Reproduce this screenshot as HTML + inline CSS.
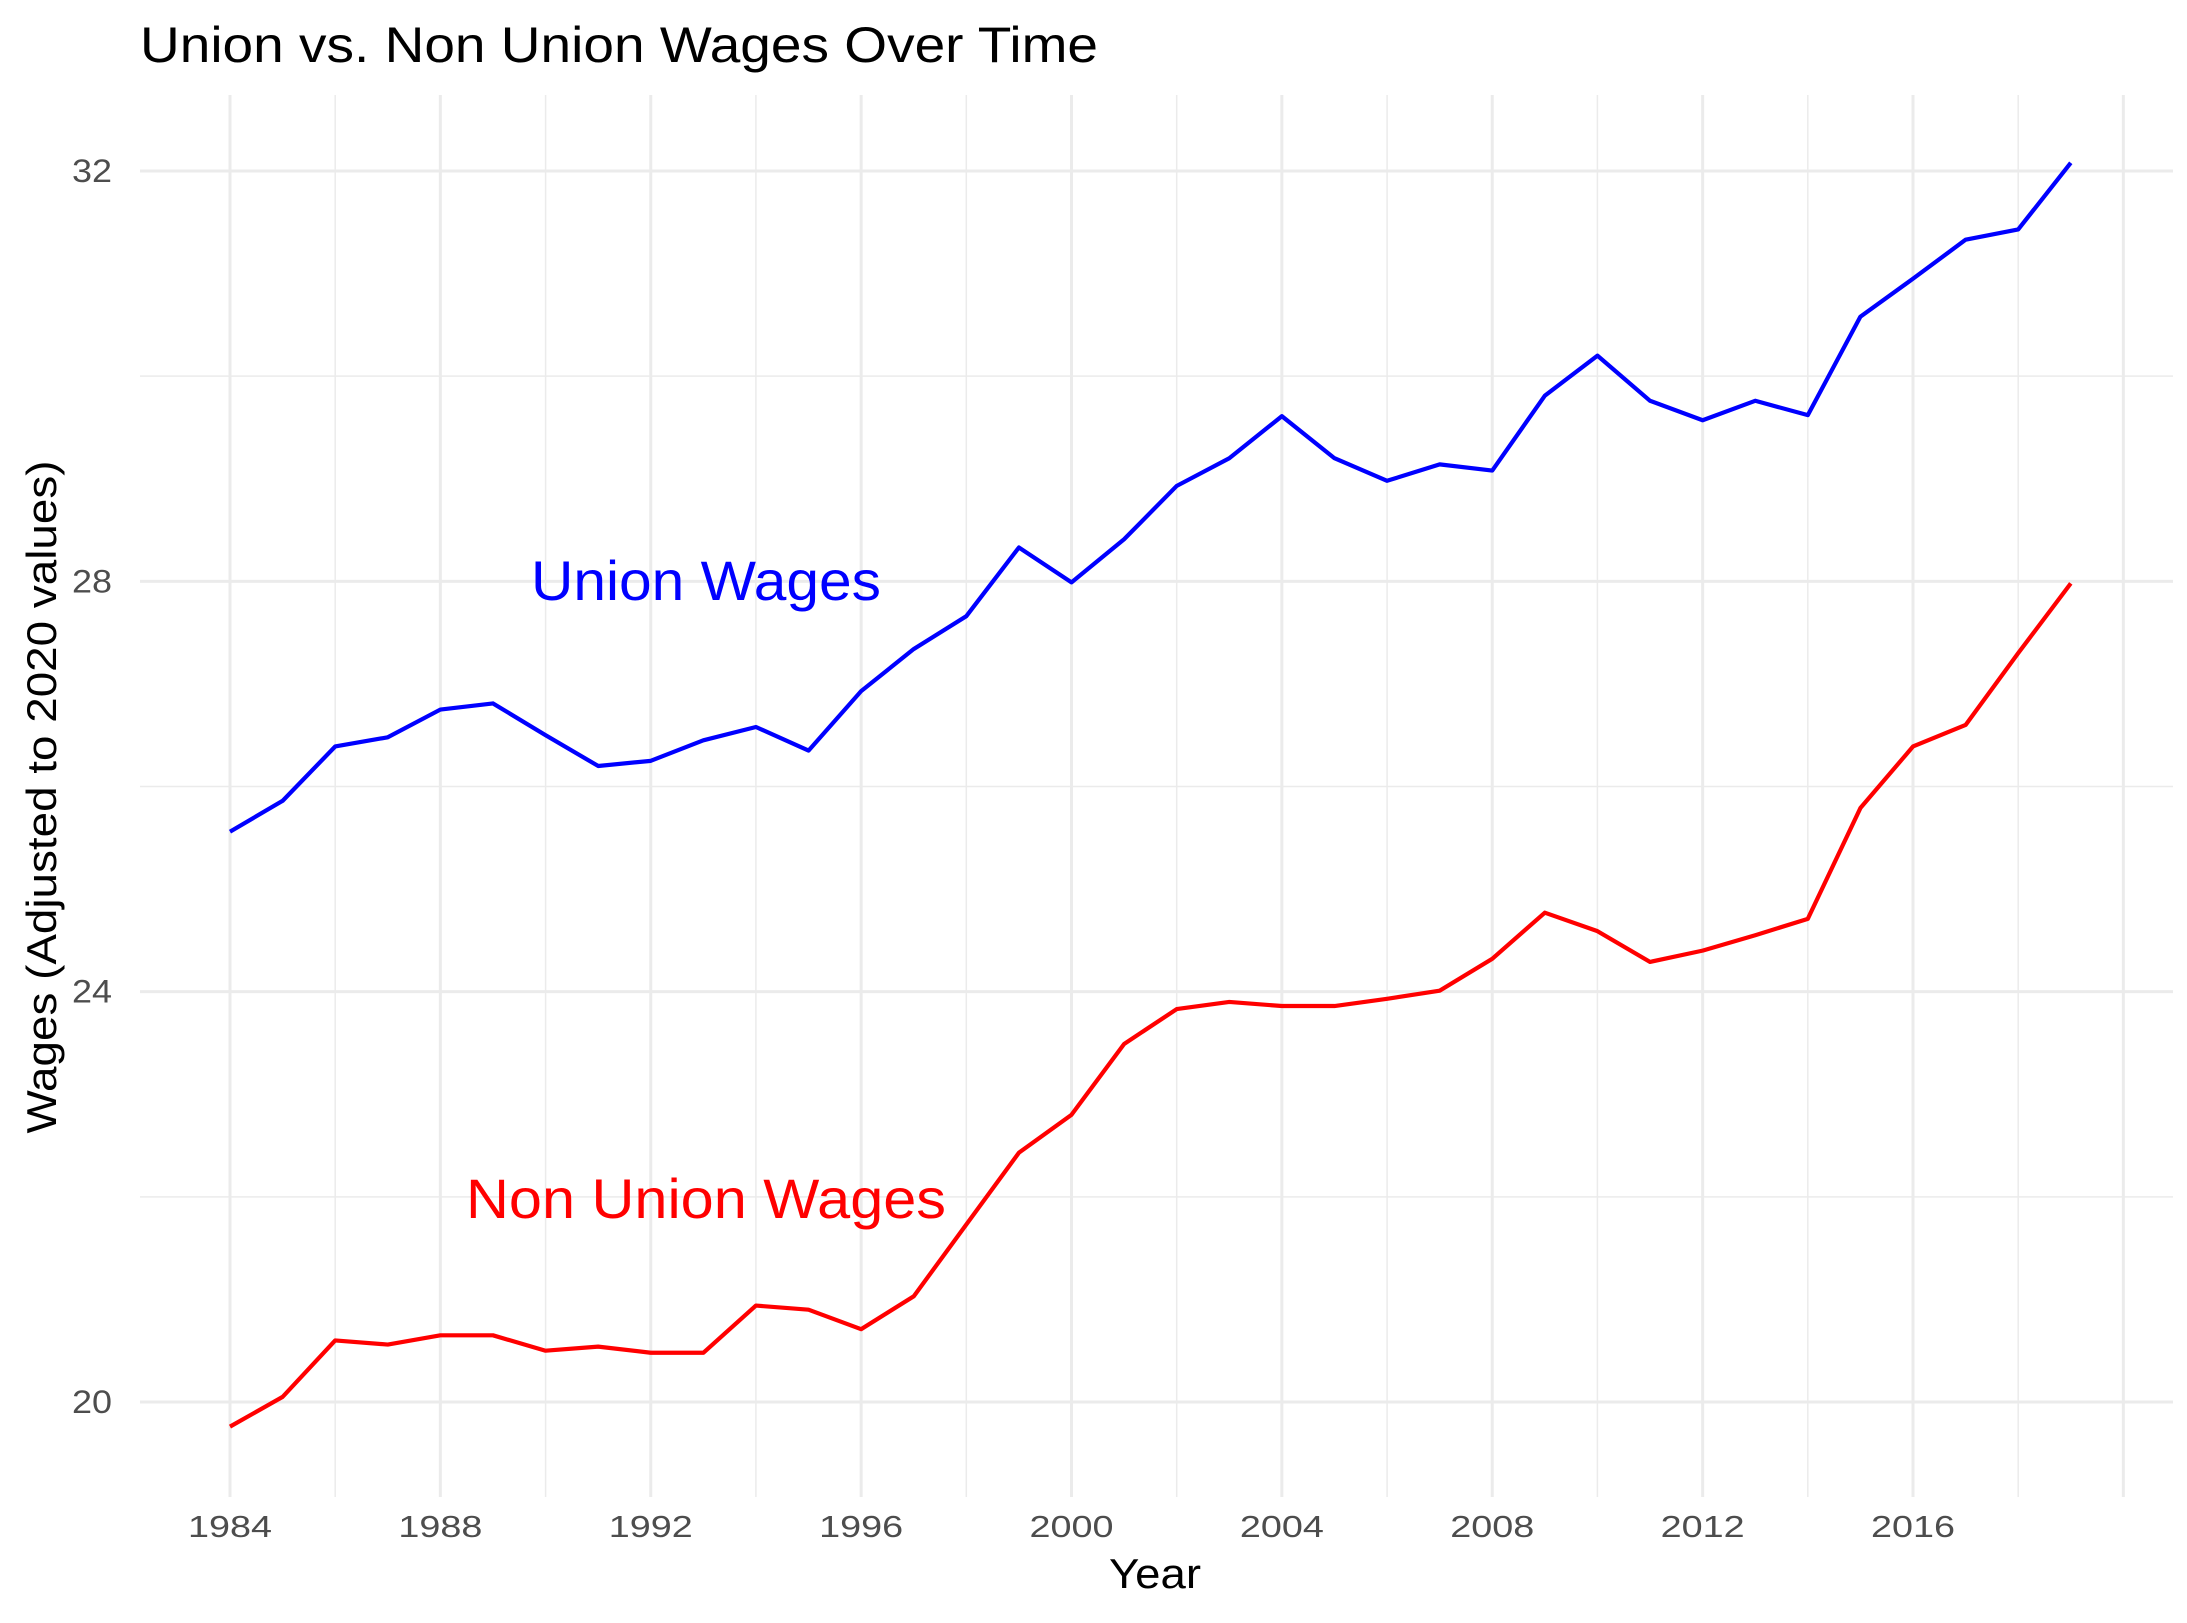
<!DOCTYPE html>
<html><head><meta charset="utf-8"><style>html,body{margin:0;padding:0;background:#fff}svg{display:block}text{font-family:"Liberation Sans",sans-serif}</style></head>
<body>
<svg id="chart" width="2187" height="1623" viewBox="0 0 2187 1623" xmlns="http://www.w3.org/2000/svg">
<text x="140" y="62" font-size="50" textLength="958" lengthAdjust="spacingAndGlyphs" fill="#000">Union vs. Non Union Wages Over Time</text>
<g id="grid"></g><g id="lines"></g><g id="axes"></g>
<text x="706" y="600" font-size="56" fill="#0000ff" text-anchor="middle" textLength="350" lengthAdjust="spacingAndGlyphs">Union Wages</text>
<text x="706" y="1218" font-size="56" fill="#ff0000" text-anchor="middle" textLength="480" lengthAdjust="spacingAndGlyphs">Non Union Wages</text>
<text x="1155" y="1588" font-size="42" text-anchor="middle" textLength="92" lengthAdjust="spacingAndGlyphs">Year</text>
<text transform="translate(56,797) rotate(-90)" font-size="42" text-anchor="middle" textLength="673" lengthAdjust="spacingAndGlyphs">Wages (Adjusted to 2020 values)</text>
</svg>
<script>
const years=[1984,1985,1986,1987,1988,1989,1990,1991,1992,1993,1994,1995,1996,1997,1998,1999,2000,2001,2002,2003,2004,2005,2006,2007,2008,2009,2010,2011,2012,2013,2014,2015,2016,2017,2018,2019];
const unionWages=[25.56,25.86,26.39,26.48,26.75,26.81,26.5,26.2,26.25,26.45,26.58,26.35,26.93,27.34,27.66,28.33,27.99,28.41,28.93,29.2,29.61,29.2,28.98,29.14,29.08,29.81,30.2,29.76,29.57,29.76,29.62,30.58,30.95,31.33,31.43,32.08];
const nonUnionWages=[19.76,20.05,20.6,20.56,20.65,20.65,20.5,20.54,20.48,20.48,20.94,20.9,20.71,21.03,21.73,22.43,22.8,23.49,23.83,23.9,23.86,23.86,23.93,24.01,24.32,24.77,24.59,24.29,24.4,24.55,24.71,25.79,26.39,26.6,27.3,27.98];
const xTicks=[1984,1988,1992,1996,2000,2004,2008,2012,2016];
const yTicks=[20,24,28,32];
const NS='http://www.w3.org/2000/svg';
const px0=140,px1=2173,py0=95,py1=1497;
const x=v=>230+(v-1984)*(1913-230)/32;
const y=v=>1402-(v-20)*(1402-171)/12;
function mk(tag,attrs,parent){const e=document.createElementNS(NS,tag);for(const k in attrs)e.setAttribute(k,attrs[k]);parent.appendChild(e);return e;}
const grid=document.getElementById('grid'),lines=document.getElementById('lines'),axes=document.getElementById('axes');
for(let v=18;v<=34;v+=2){const yy=y(v);if(yy<py0||yy>py1)continue;const major=v%4===0;
const l=mk('line',{x1:px0,x2:px1,y1:yy,y2:yy,stroke:'#ebebeb','stroke-width':major?3:1.5},grid);

}
for(let v=1982;v<=2022;v+=2){const xx=x(v);if(xx<px0||xx>px1)continue;const major=v%4===0;
const l=mk('line',{x1:xx,x2:xx,y1:py0,y2:py1,stroke:'#ebebeb','stroke-width':major?3:1.5},grid);

}
function series(vals,color,name){const p=mk('polyline',{points:years.map((yr,i)=>x(yr)+','+y(vals[i])).join(' '),fill:'none',stroke:color,'stroke-width':4.2,'stroke-linejoin':'round'},lines);

}
series(unionWages,'#0000ff','union-wages-line');
series(nonUnionWages,'#ff0000','non-union-wages-line');
xTicks.forEach(t=>{const e=mk('text',{x:x(t),y:1537,'font-size':31,fill:'#4d4d4d','text-anchor':'middle',textLength:84,lengthAdjust:'spacingAndGlyphs'},axes);e.textContent=t;

});
yTicks.forEach(t=>{const e=mk('text',{x:112,y:y(t)+11,'font-size':32,fill:'#4d4d4d','text-anchor':'end',textLength:40,lengthAdjust:'spacingAndGlyphs'},axes);e.textContent=t;

});
</script>
</body></html>
